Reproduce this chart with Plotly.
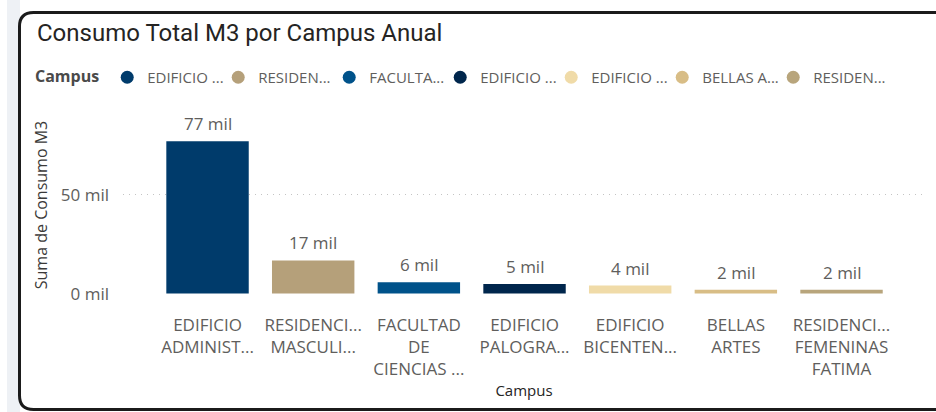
import plotly.graph_objects as go

# ---------------- data ----------------
categories = ["EDIFICIO<br>ADMINIST...", "RESIDENCI...<br>MASCULI...", "FACULTAD<br>DE<br>CIENCIAS ...",
              "EDIFICIO<br>PALOGRA...", "EDIFICIO<br>BICENTEN...", "BELLAS<br>ARTES",
              "RESIDENCI...<br>FEMENINAS<br>FATIMA"]
legend_labels = ["EDIFICIO ...", "RESIDEN...", "FACULTA...", "EDIFICIO ...", "EDIFICIO ...",
                 "BELLAS A...", "RESIDEN..."]
consumo = [77000, 16800, 5800, 4900, 4100, 2000, 1900]
colors = ["#003b6b", "#b5a07a", "#00528a", "#00264c", "#f0dba8", "#d8bd86", "#b8a57c"]
y_ticks = [0, 50000]

# ---------------- geometry helpers ----------------
W, H = 936, 412
PL, PR, PT, PB = 123, 925, 116, 294   # plot area in px
def px_x(x):
    return (x - PL) / (PR - PL)
def px_y(y):
    return (PB - y) / (PB - PT)

def fmt(v):
    return f"{round(v / 1000)} mil"

idx = list(range(len(categories)))

fig = go.Figure()
fig.add_trace(go.Bar(x=idx, y=consumo, marker=dict(color=colors, line=dict(width=0)),
                     showlegend=False, hoverinfo="skip"))
for i, (lab, c) in enumerate(zip(legend_labels, colors)):
    fig.add_trace(go.Scatter(x=[i], y=[None], mode="markers", name=lab,
                             legendwidth=95 if i == len(legend_labels) - 1 else None,
                             marker=dict(symbol="circle", size=13, color=c)))

annotations = []
for i, v in zip(idx, consumo):
    annotations.append(dict(x=i, y=v, xref="x", yref="y", text=fmt(v), showarrow=False,
                            yanchor="bottom", yshift=4,
                            font=dict(family="Open Sans", size=17, color="#605e5c")))

# card border (rounded) in paper coords
x0, x1 = px_x(19.5), px_x(945)
y_top, y_bot = px_y(12.5), px_y(409.5)
rx = 14 / (PR - PL)
ry = 14 / (PB - PT)
card_path = (f"M {x0},{y_top - ry} Q {x0},{y_top} {x0 + rx},{y_top} L {x1},{y_top} "
             f"L {x1},{y_bot} L {x0 + rx},{y_bot} Q {x0},{y_bot} {x0},{y_bot + ry} Z")

shapes = [
    dict(type="rect", xref="paper", yref="paper", x0=px_x(7), x1=px_x(20), y0=px_y(0), y1=px_y(412),
         fillcolor="#eef1f5", line=dict(width=0), layer="below"),
    dict(type="path", xref="paper", yref="paper", path=card_path, fillcolor="white",
         line=dict(color="#1b1b1b", width=3), layer="below"),
]

fig.update_layout(
    width=W, height=H,
    margin=dict(l=PL, r=W - PR, t=PT, b=H - PB, pad=0),
    paper_bgcolor="white", plot_bgcolor="rgba(0,0,0,0)",
    bargap=0.22,
    title=dict(text="Consumo Total M3 por Campus Anual", x=37 / W, xanchor="left",
               y=1 - 33 / H, yanchor="middle",
               font=dict(family="Roboto", size=24, color="#252423")),
    legend=dict(orientation="h", x=px_x(33), xanchor="left", y=px_y(61), yanchor="top",
                title=dict(text="<b>Campus</b>", font=dict(family="Open Sans", size=16, color="#4a4a4a")),
                font=dict(family="Open Sans", size=15, color="#605e5c"),
                entrywidth=66, entrywidthmode="pixels", itemclick=False, bgcolor="rgba(0,0,0,0)"),
    xaxis=dict(range=[-0.8, 6.79], tickvals=idx, ticktext=categories, showgrid=False,
               zeroline=False, showline=False, ticks="", ticklabelstandoff=19,
               tickfont=dict(family="Open Sans", size=17, color="#605e5c"),
               title=dict(text="Campus", standoff=6,
                          font=dict(family="Open Sans", size=15, color="#252423"))),
    yaxis=dict(range=[-200, 89800], tickvals=y_ticks, ticktext=[fmt(v) for v in y_ticks],
               showgrid=True, gridcolor="#c4c4c4", griddash="1px,5px", gridwidth=1,
               zeroline=False, showline=False, ticks="", ticklabelstandoff=13,
               tickfont=dict(family="Open Sans", size=17, color="#605e5c"),
               title=dict(text="Suma de Consumo M3", standoff=9,
                          font=dict(family="Open Sans", size=16, color="#3b3a39"))),
    annotations=annotations,
    shapes=shapes,
    showlegend=True,
)

fig.write_html("out.html", config={"displayModeBar": False},
               post_script="document.body.style.margin='0px';")
